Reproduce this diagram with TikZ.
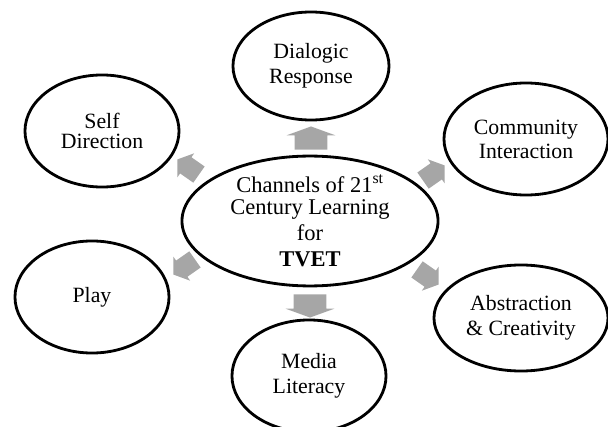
\documentclass[tikz,border=0pt]{standalone}
\usepackage{fontspec}
\setmainfont{Liberation Serif}
\usetikzlibrary{shapes.arrows,shapes.geometric}

\begin{document}
\begin{tikzpicture}[x=0.025cm,y=-0.025cm,
    bubble/.style={draw, ellipse, line width=2pt, inner sep=0pt,
        minimum width=3.85cm, minimum height=2.8cm, align=center,
        font=\fontsize{15.5}{17}\selectfont},
    hub/.style={bubble, minimum width=6.4cm, minimum height=3.2cm,
        font=\fontsize{16}{16.5}\selectfont},
    fatarrow/.style={single arrow, draw=none, fill=arrowgray,
        inner xsep=0pt, inner ysep=0.4cm,
        minimum height=0.58cm, single arrow head extend=0.2cm,
        single arrow tip angle=140},
    slimarrow/.style={fatarrow, inner ysep=0.24cm, minimum height=0.66cm,
        single arrow head extend=0.12cm, single arrow tip angle=110}]

    \colorlet{arrowgray}{black!35}

    \useasboundingbox (0,0) rectangle (608,427);

    % hub
    \node[hub] (hub) at (310,221)
        {Channels of 21\textsuperscript{st}\\[-1pt] Century Learning\\[2pt] for\\[2pt] \textbf{TVET}};

    % channels
    \node[bubble, minimum width=3.9cm, minimum height=2.7cm] (dialogic) at (311,66) {Dialogic\\[1pt] Response};
    \node[bubble] (self) at (102,131) {Self\\[-3pt] Direction};
    \node[bubble, minimum width=4.1cm] (community) at (526,139) {Community\\ Interaction};
    \node[bubble] (play) at (92,297) {Play};
    \node[bubble] (media) at (309,376) {Media\\[1pt] Literacy};
    \node[bubble, minimum width=4.35cm, minimum height=2.65cm] (abstraction) at (521,318) {Abstraction\\[1pt] \& Creativity};

    % arrows
    \node[fatarrow, rotate=90] (toDialogic) at (311,141) {};
    \node[fatarrow, rotate=-90] (toMedia) at (310,303) {};
    \node[slimarrow, rotate=145] (toSelf) at (191,169) {};
    \node[slimarrow, rotate=35] (toCommunity) at (431,175) {};
    \node[slimarrow, rotate=215] (toPlay) at (187,265) {};
    \node[slimarrow, rotate=-35] (toAbstraction) at (425,275) {};

\end{tikzpicture}
\end{document}
